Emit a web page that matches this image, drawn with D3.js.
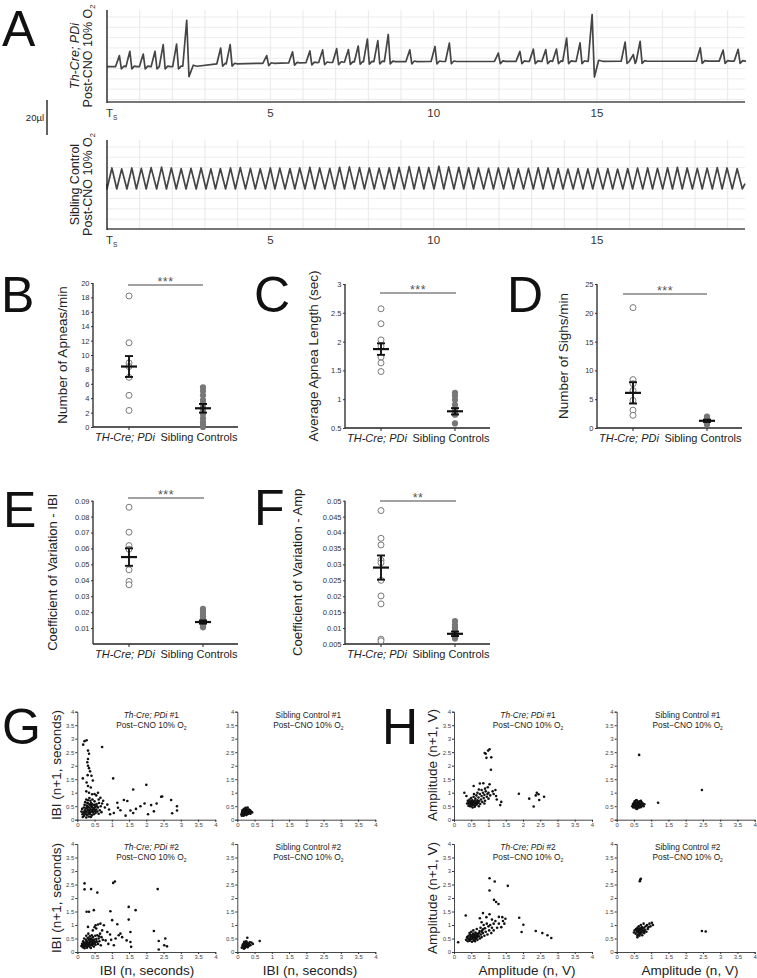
<!DOCTYPE html>
<html>
<head>
<meta charset="utf-8">
<script src="https://cdn.jsdelivr.net/npm/d3@7"></script>
<style>
  body { margin: 0; background: #fff; }
  svg text { font-family: 'Liberation Sans', Arial, Helvetica, sans-serif; }
</style>
</head>
<body>
<script>
// ---------------- data ----------------
// Panel A, Th-Cre;PDi trace: breath peaks (s) and their height above baseline (ul)
var pdiPeakTimes = [0.38,0.70,1.11,1.47,1.72,2.13,3.48,3.77,4.89,5.68,6.21,6.60,7.03,7.39,7.69,7.97,8.29,8.61,
                    9.27,10.04,10.48,11.98,12.64,13.05,13.43,13.76,14.07,14.48,15.86,16.11,16.32,18.16,18.86,19.32];
var pdiPeakAmps  = [6.3,8.8,7.2,8.8,12.6,12.9,9.1,11,4.4,6.3,6.7,7.2,7.8,7.2,9.1,13,12,15.5,
                    6.7,8.6,10.5,4.8,5.7,7,6.7,7,13.3,10.5,10.9,3.8,11.4,7.6,6.3,6.7];
var pdiSighTimes = [2.44, 14.85];
var pdiSighAmps  = [26.3, 26.7];
var pdiSighDips  = [-6, -9];
var pdiBaseTimes = [0, 2.35, 2.9, 8.5, 19.6];
var pdiBaseVals  = [0, 0, 1.4, 2.9, 3.2];

// Panel A, sibling control trace: breath peaks (s) and peak height (ul)
var sibPeakTimes = [0.15,0.45,0.76,1.05,1.35,1.67,1.97,2.27,2.57,2.88,3.18,3.47,3.78,4.08,4.39,4.69,5.00,5.29,
                    5.60,5.90,6.21,6.51,6.82,7.12,7.42,7.73,8.03,8.33,8.64,8.94,9.25,9.55,9.85,10.16,10.46,10.77,
                    11.07,11.37,11.68,11.98,12.29,12.59,12.90,13.20,13.50,13.81,14.11,14.42,14.72,15.02,15.33,15.63,
                    15.94,16.24,16.55,16.85,17.16,17.46,17.76,18.07,18.37,18.68,18.98,19.29];
var sibPeakAmps  = [12,11.5,12,11.8,12.2,12.5,12,11.6,11.8,12,11.5,11.7,12,12.2,11.8,11.6,12,11.9,
                    11.7,12,12.3,12,11.8,12.4,12.6,12.2,12,11.9,12.1,12.3,12.8,12.5,12.2,13,12.6,12.4,
                    12.1,12,11.8,12,11.9,11.6,11.8,12.1,12,11.7,11.4,11.6,11.5,11.8,11.6,11.4,
                    11.7,11.9,12,11.8,12.1,12.3,12,11.8,11.9,12.2,12,11.6];
var traceTicks = [5, 10, 15];

// Panels B-F: per-animal values, with mean and SEM
var groupNames = ["TH-Cre; PDi", "Sibling Controls"];
var apneaPDi  = [18.2, 11.7, 8.9, 8.4, 6.9, 4.4, 2.3];
var apneaSib  = [5.5, 5.0, 4.4, 3.75, 3.3, 2.8, 2.4, 1.8, 1.2, 0.7, 0.3, 0.0];
var apneaStat = [[8.4, 1.45], [2.6, 0.6]];
var lengthPDi  = [2.57, 2.31, 2.03, 1.92, 1.73, 1.63, 1.48];
var lengthSib  = [1.11, 1.06, 0.99, 0.90, 0.81, 0.76, 0.73, 0.58];
var lengthStat = [[1.87, 0.10], [0.79, 0.055]];
var sighPDi  = [20.9, 8.4, 7.7, 6.5, 4.8, 3.1, 2.2];
var sighSib  = [2.0, 1.8, 1.6, 1.4, 1.2, 1.0, 0.8, 0.6];
var sighStat = [[6.1, 1.85], [1.25, 0.2]];
var cvIbiPDi  = [0.0859, 0.0702, 0.0618, 0.0595, 0.0466, 0.0393, 0.0372];
var cvIbiSib  = [0.022, 0.0205, 0.019, 0.0175, 0.016, 0.015, 0.014, 0.013, 0.012, 0.011, 0.0105];
var cvIbiStat = [[0.0546, 0.0055], [0.0138, 0.001]];
var cvAmpPDi  = [0.0469, 0.0382, 0.0361, 0.0313, 0.0305, 0.025, 0.0201, 0.0176, 0.0065, 0.006];
var cvAmpSib  = [0.0122, 0.011, 0.0103, 0.0095, 0.009, 0.0085, 0.008, 0.0075, 0.007, 0.0067];
var cvAmpStat = [[0.029, 0.0038], [0.0082, 0.0007]];

// Panels G-H: Poincare plots, [n, n+1]
var scatterTicks = [0, 0.5, 1, 1.5, 2, 2.5, 3, 3.5, 4];
var ibiPDi1 = [[0.21,2.91],[0.27,2.94],[0.17,2.78],[0.72,2.69],[0.16,1.53],[1.04,1.53],
  [0.31,2.56],[0.34,2.44],[0.31,2.25],[0.29,2.13],[0.31,2.0],[0.34,1.91],[0.37,1.79],[0.41,1.63],[0.3,1.65],[0.27,1.38],
  [0.31,1.25],[0.39,1.19],[0.34,1.0],[0.43,0.94],[0.26,1.05],[0.45,1.45],
  [1.62,1.12],[2.0,1.29],[2.43,0.85],[2.46,0.86],[2.72,0.73],[2.89,0.5],[2.89,0.34],[2.75,0.24],[2.14,0.54],[2.22,0.31],
  [1.83,0.5],[1.62,0.25],[1.4,0.15],[1.54,0.34],[1.16,0.63],[1.18,0.44],[1.06,0.25],[1.35,0.73],[1.45,0.69],[0.87,0.56],
  [0.92,0.38],[0.67,0.81],[0.62,0.75],[0.55,0.9],[0.75,0.7],[0.8,0.45],[0.95,0.2],[1.25,0.35],[1.7,0.4],[1.95,0.6],
  [2.3,0.6],[2.05,0.2],[0.5,0.95],[0.6,1.0],
  [0.15,0.2],[0.18,0.28],[0.2,0.15],[0.22,0.35],[0.24,0.22],[0.25,0.42],[0.27,0.3],[0.28,0.18],[0.3,0.5],[0.3,0.38],
  [0.32,0.26],[0.33,0.12],[0.34,0.45],[0.35,0.33],[0.36,0.56],[0.37,0.21],[0.38,0.4],[0.4,0.3],[0.4,0.62],[0.41,0.48],
  [0.42,0.16],[0.43,0.36],[0.45,0.27],[0.46,0.55],[0.47,0.42],[0.48,0.2],[0.5,0.33],[0.5,0.68],[0.52,0.47],[0.53,0.25],
  [0.55,0.38],[0.56,0.58],[0.58,0.3],[0.6,0.45],[0.62,0.22],[0.63,0.62],[0.65,0.35],[0.68,0.5],[0.7,0.28],[0.72,0.6],
  [0.19,0.45],[0.21,0.55],[0.23,0.65],[0.26,0.75],[0.29,0.62],[0.31,0.72],[0.35,0.8],[0.38,0.7],[0.44,0.75],[0.12,0.3],
  [0.14,0.4],[0.16,0.1],[0.26,0.08],[0.39,0.1],[0.29,0.45],[0.33,0.35],[0.36,0.28],[0.39,0.52],[0.44,0.46],[0.47,0.3],
  [0.27,0.52],[0.24,0.3],[0.32,0.6],[0.42,0.58],[0.51,0.55],[0.57,0.5],[0.49,0.4],[0.53,0.33],[0.34,0.22],[0.21,0.24]];
var ibiSib1 = [[0.12,0.2],[0.14,0.28],[0.15,0.35],[0.16,0.22],[0.17,0.3],[0.18,0.38],[0.19,0.25],[0.2,0.32],[0.21,0.18],
  [0.22,0.28],[0.23,0.36],[0.24,0.23],[0.25,0.31],[0.26,0.4],[0.27,0.26],[0.28,0.34],[0.29,0.2],[0.3,0.29],[0.31,0.37],
  [0.32,0.25],[0.33,0.32],[0.35,0.28],[0.37,0.35],[0.38,0.22],[0.4,0.3],[0.43,0.27],[0.2,0.4],[0.24,0.44],[0.3,0.45],
  [0.13,0.15],[0.18,0.15],[0.26,0.17],[0.16,0.26],[0.22,0.24],[0.28,0.3],[0.34,0.38],[0.36,0.24],[0.19,0.34],[0.25,0.27],[0.31,0.22]];
var ibiPDi2 = [[0.21,2.54],[0.21,2.32],[0.4,2.33],[0.58,2.2],[1.04,2.56],[1.09,2.61],[2.33,2.33],[0.27,1.49],[0.34,1.49],
  [0.48,1.55],[1.49,1.67],[1.69,1.55],[1.49,1.2],[0.96,1.51],[1.01,1.18],[1.54,0.74],[1.54,0.37],[1.56,0.19],[1.43,0.43],
  [2.22,0.78],[2.36,0.41],[2.36,0.09],[2.55,0.5],[2.6,0.21],[2.52,0.25],[1.2,0.62],[1.11,0.5],[1.16,1.03],[1.06,0.25],
  [0.77,0.99],[0.67,1.05],[0.53,0.99],[0.5,0.92],[0.31,0.93],[0.87,0.74],[0.82,0.43],[0.63,0.58],[0.95,0.65],[1.25,0.68],
  [1.3,0.55],[0.72,0.8],[0.9,0.3],[0.98,0.45],[0.6,1.02],[0.55,0.87],[0.45,0.8],
  [0.12,0.22],[0.14,0.3],[0.16,0.18],[0.17,0.4],[0.19,0.26],[0.2,0.5],[0.21,0.14],[0.22,0.34],[0.24,0.22],[0.25,0.45],
  [0.26,0.6],[0.27,0.3],[0.28,0.16],[0.29,0.38],[0.3,0.52],[0.31,0.24],[0.32,0.68],[0.33,0.33],[0.34,0.45],[0.35,0.2],
  [0.36,0.58],[0.37,0.28],[0.38,0.4],[0.39,0.15],[0.4,0.5],[0.41,0.33],[0.42,0.62],[0.43,0.24],[0.44,0.42],[0.45,0.55],
  [0.46,0.3],[0.48,0.2],[0.49,0.46],[0.5,0.36],[0.52,0.6],[0.53,0.27],[0.55,0.48],[0.57,0.38],[0.58,0.62],[0.6,0.3],
  [0.62,0.5],[0.64,0.4],[0.66,0.68],[0.68,0.25],[0.7,0.55],[0.74,0.45],[0.18,0.33],[0.23,0.28],[0.27,0.42],[0.3,0.3],
  [0.34,0.26],[0.36,0.36],[0.4,0.26],[0.44,0.35],[0.47,0.4],[0.25,0.35],[0.21,0.2],[0.33,0.5],[0.38,0.48],[0.42,0.45],
  [0.15,0.25],[0.29,0.22],[0.51,0.3],[0.55,0.4]];
var ibiSib2 = [[0.13,0.16],[0.15,0.22],[0.16,0.28],[0.17,0.18],[0.18,0.25],[0.19,0.32],[0.2,0.2],[0.21,0.27],[0.22,0.15],
  [0.22,0.34],[0.23,0.23],[0.24,0.3],[0.25,0.19],[0.26,0.26],[0.27,0.35],[0.28,0.22],[0.29,0.29],[0.3,0.18],[0.31,0.25],
  [0.32,0.32],[0.33,0.22],[0.35,0.28],[0.36,0.36],[0.38,0.25],[0.29,0.53],[0.65,0.41],[0.45,0.3],[0.41,0.35],[0.19,0.12],
  [0.26,0.4],[0.2,0.38],[0.24,0.26],[0.27,0.2],[0.17,0.23],[0.3,0.24],[0.34,0.3]];
var ampPDi1 = [[0.92,2.44],[0.99,2.56],[0.89,2.47],[1.03,2.61],[1.08,2.31],[0.94,2.29],[1.07,1.85],[1.88,0.96],[2.18,0.78],
  [2.31,0.49],[2.37,0.9],[2.47,0.73],[2.45,0.94],[2.61,0.85],[2.4,1.0],[1.34,0.54],[1.37,0.66],[1.22,0.88],[1.24,0.75],
  [1.03,1.31],[0.98,1.2],[0.57,1.25],[0.72,1.12],[0.75,1.34],[0.36,0.88],[0.85,1.35],[1.12,1.05],[1.15,0.95],[1.2,1.1],
  [0.9,1.15],[1.0,1.0],[0.3,1.0],
  [0.38,0.6],[0.4,0.7],[0.42,0.52],[0.44,0.65],[0.45,0.75],[0.47,0.58],[0.48,0.68],[0.5,0.5],[0.5,0.8],[0.52,0.62],
  [0.53,0.72],[0.55,0.55],[0.56,0.66],[0.57,0.85],[0.58,0.6],[0.6,0.7],[0.61,0.52],[0.62,0.78],[0.64,0.64],[0.65,0.9],
  [0.66,0.56],[0.68,0.72],[0.7,0.62],[0.71,0.82],[0.73,0.68],[0.75,0.95],[0.76,0.58],[0.78,0.75],[0.8,0.88],[0.82,0.66],
  [0.84,1.0],[0.86,0.8],[0.88,0.92],[0.9,0.7],[0.92,1.05],[0.95,0.85],[0.97,0.95],[1.0,0.78],[1.05,0.9],[0.46,0.5],
  [0.54,0.45],[0.6,0.48],[0.72,0.5],[0.68,1.0],[0.58,0.95],[0.8,1.1],[0.88,0.6],[0.42,0.62],[0.52,0.56],[0.63,0.6],
  [0.55,0.65],[0.6,0.62],[0.66,0.66],[0.5,0.66],[0.45,0.6]];
var ampSib1 = [[0.65,2.4],[1.2,0.63],[2.47,1.1],
  [0.45,0.5],[0.47,0.58],[0.48,0.45],[0.5,0.62],[0.5,0.52],[0.52,0.68],[0.53,0.48],[0.54,0.57],[0.55,0.42],[0.56,0.63],
  [0.57,0.52],[0.58,0.72],[0.59,0.46],[0.6,0.58],[0.61,0.66],[0.62,0.5],[0.63,0.6],[0.64,0.44],[0.65,0.55],[0.66,0.68],
  [0.67,0.5],[0.68,0.6],[0.7,0.46],[0.71,0.56],[0.72,0.65],[0.74,0.52],[0.76,0.6],[0.78,0.5],[0.52,0.55],[0.58,0.6],
  [0.62,0.56],[0.55,0.5],[0.6,0.52],[0.64,0.62],[0.69,0.55],[0.48,0.52],[0.7,0.7],[0.56,0.72],[0.8,0.57],[0.59,0.4]];
var ampPDi2 = [[1.03,2.73],[1.18,2.61],[1.03,2.28],[1.56,2.45],[1.16,1.93],[1.22,1.85],[1.29,1.78],[1.89,1.27],[2.01,1.01],
  [1.96,0.74],[2.37,0.78],[2.56,0.7],[2.71,0.62],[2.82,0.52],[0.34,1.35],[0.84,1.44],[0.94,1.29],[1.03,1.4],[1.4,1.29],
  [1.49,1.23],[1.46,1.05],[1.37,0.92],[1.42,1.15],[0.12,0.36],[1.3,1.05],[1.2,1.15],[1.1,1.2],[1.25,0.9],[1.15,0.8],
  [1.3,1.3],[0.75,1.25],[0.8,1.1],
  [0.35,0.45],[0.38,0.55],[0.4,0.4],[0.42,0.6],[0.44,0.5],[0.45,0.7],[0.46,0.42],[0.48,0.58],[0.5,0.48],[0.5,0.75],
  [0.52,0.38],[0.53,0.62],[0.55,0.52],[0.56,0.8],[0.57,0.45],[0.58,0.65],[0.6,0.55],[0.61,0.4],[0.62,0.72],[0.64,0.5],
  [0.65,0.6],[0.66,0.85],[0.68,0.45],[0.7,0.68],[0.72,0.58],[0.74,0.78],[0.75,0.5],[0.77,0.9],[0.78,0.65],[0.8,0.55],
  [0.82,0.8],[0.84,0.7],[0.86,1.0],[0.88,0.6],[0.9,0.88],[0.92,0.75],[0.95,1.05],[0.97,0.65],[1.0,0.95],[1.02,0.8],
  [1.05,1.0],[1.08,0.7],[1.1,0.9],[1.15,1.05],[0.47,0.65],[0.54,0.58],[0.6,0.62],[0.63,0.48],[0.67,0.55],[0.52,0.5],
  [0.58,0.5],[0.43,0.48],[0.48,0.52],[0.56,0.6],[0.62,0.6],[0.69,0.62],[0.73,0.7],[0.8,0.75],[0.85,0.85],[0.58,0.42],
  [0.5,0.6],[0.55,0.68],[0.64,0.68],[0.4,0.5]];
var ampSib2 = [[0.67,2.62],[0.7,2.71],[0.68,2.67],[2.47,0.78],[2.58,0.76],
  [0.5,0.72],[0.52,0.8],[0.55,0.68],[0.56,0.85],[0.58,0.75],[0.6,0.62],[0.6,0.9],[0.62,0.78],[0.63,0.7],[0.64,0.95],
  [0.65,0.82],[0.66,0.6],[0.67,0.75],[0.68,0.88],[0.69,0.68],[0.7,1.0],[0.71,0.8],[0.72,0.72],[0.73,0.92],[0.74,0.62],
  [0.75,0.85],[0.76,0.76],[0.78,1.05],[0.79,0.9],[0.8,0.7],[0.82,0.82],[0.84,0.95],[0.86,0.75],[0.88,1.0],[0.9,0.85],
  [0.92,0.92],[0.95,1.05],[0.98,0.95],[1.02,1.08],[1.05,1.0],[0.62,0.85],[0.66,0.7],[0.7,0.76],[0.74,0.8],[0.77,0.72],
  [0.68,0.8],[0.72,0.85],[0.65,0.65],[0.58,0.82],[0.8,0.78],[0.6,0.55]];

// ---------------- drawing ----------------
var svg = d3.select("body").append("svg").attr("width", 757).attr("height", 978);

function letter(t, x, y) {
  svg.append("text").attr("x", x).attr("y", y).attr("font-size", 50).attr("fill", "#111").text(t);
}

// rotated multi-part label; parts: [text, italic, sub]
function rotText(x, y, parts, size, fill) {
  var t = svg.append("text").attr("transform", "translate(" + x + "," + y + ") rotate(-90)")
    .attr("text-anchor", "middle").attr("font-size", size).attr("fill", fill || "#222");
  addParts(t, parts, size);
  return t;
}
function addParts(t, parts, size) {
  parts.forEach(function(p) {
    var s = t.append("tspan").text(p[0]);
    if (p[1]) s.attr("font-style", "italic");
    if (p[2]) s.attr("font-size", size * 0.6).attr("dy", size * 0.25);
  });
}

// ---- Panel A traces
var tx = d3.scaleLinear().domain([0, 19.53]).range([107, 745]);
var gridSeconds = d3.range(1, 20);

function pdiPoints() {
  var base = d3.scaleLinear().domain(pdiBaseTimes).range(pdiBaseVals);
  var ev = pdiPeakTimes.map(function(t, i) { return {t: t, a: pdiPeakAmps[i]}; })
    .concat(pdiSighTimes.map(function(t, i) { return {t: t, a: pdiSighAmps[i], dip: pdiSighDips[i]}; }));
  ev.sort(function(a, b) { return a.t - b.t; });
  var pts = [[0, base(0)]];
  ev.forEach(function(e) {
    var b = base(e.t), shape;
    if (e.dip !== undefined) {
      shape = [[e.t - 0.12, b], [e.t, b + e.a], [e.t + 0.07, b + e.dip], [e.t + 0.2, b + 0.6], [e.t + 0.32, b]];
    } else {
      shape = [[e.t - 0.12, b], [e.t, b + e.a], [e.t + 0.06, b - 1.3], [e.t + 0.14, b + 0.3], [e.t + 0.22, b]];
    }
    pts = pts.filter(function(p) { return p[0] < shape[0][0]; });
    pts = pts.concat(shape);
  });
  pts.push([19.53, base(19.53)]);
  return pts;
}

function sibPoints() {
  var pts = [[0, 3]];
  sibPeakTimes.forEach(function(t, i) {
    pts.push([t - 0.15, 0], [t, sibPeakAmps[i]]);
  });
  pts.push([19.45, 0], [19.53, 3]);
  return pts;
}

function tracePanel(top, bottom, ydom, pts, labelParts) {
  var y = d3.scaleLinear().domain(ydom).range([bottom, top]);
  var g = svg.append("g");
  g.selectAll(".vg").data(gridSeconds).enter().append("line")
    .attr("x1", function(d) { return tx(d); }).attr("x2", function(d) { return tx(d); })
    .attr("y1", top).attr("y2", bottom).attr("stroke", "#e3e3e3").attr("stroke-width", 0.8);
  var hg = d3.range(top + 7, bottom - 2, 10.3);
  g.selectAll(".hg").data(hg).enter().append("line")
    .attr("x1", 107).attr("x2", 745).attr("y1", function(d) { return d; }).attr("y2", function(d) { return d; })
    .attr("stroke", "#e8e8e8").attr("stroke-width", 0.8);
  g.append("path").datum(pts)
    .attr("d", d3.line().x(function(d) { return tx(d[0]); }).y(function(d) { return y(d[1]); }))
    .attr("fill", "none").attr("stroke", "#454545").attr("stroke-width", 1.7).attr("stroke-linejoin", "round");
  g.append("line").attr("x1", 107).attr("x2", 745).attr("y1", bottom).attr("y2", bottom)
    .attr("stroke", "#777").attr("stroke-width", 2);
  g.append("line").attr("x1", 107).attr("x2", 107).attr("y1", top).attr("y2", bottom + 1)
    .attr("stroke", "#222").attr("stroke-width", 1.4);
  g.selectAll(".tl").data(traceTicks).enter().append("text")
    .attr("x", function(d) { return tx(d); }).attr("y", bottom + 15)
    .attr("text-anchor", "middle").attr("font-size", 11.5).attr("fill", "#333").text(function(d) { return d; });
  var ts = g.append("text").attr("x", 106).attr("y", bottom + 15).attr("font-size", 11.5).attr("fill", "#333");
  ts.append("tspan").text("T");
  ts.append("tspan").attr("font-size", 6.5).attr("dy", 3).text("S");
  var cy = (top + bottom) / 2;
  rotText(79, cy, labelParts[0], 12.5);
  rotText(92, cy, [["Post-CNO 10% O"], ["2", false, true]], 12.5);
}

tracePanel(10, 102, [-20.2, 32.4], pdiPoints(), [[["Th-Cre; PDi", true]]]);
tracePanel(140, 229, [-22.9, 28], sibPoints(), [[["Sibling Control"]]]);

// scale bar
svg.append("line").attr("x1", 47).attr("x2", 47).attr("y1", 100).attr("y2", 135).attr("stroke", "#222").attr("stroke-width", 1.4);
svg.append("text").attr("x", 44).attr("y", 121).attr("text-anchor", "end").attr("font-size", 9.5).attr("fill", "#222").text("20µl");

// ---- Panels B-F dot plots
function dotPlot(o) {
  var g = svg.append("g");
  var y = d3.scaleLinear().domain(o.domain).range([o.bottom, o.top]);
  var x = d3.scalePoint().domain(groupNames).range([o.left + 36, o.left + 110]);
  var ax = g.append("g").attr("transform", "translate(" + o.left + ",0)")
    .call(d3.axisLeft(y).tickValues(o.ticks).tickSize(2).tickPadding(1.5).tickFormat(o.fmt));
  ax.select(".domain").attr("stroke", "#222").attr("stroke-width", 1.3).attr("d", "M0," + o.top + "V" + o.bottom);
  ax.selectAll(".tick line").attr("stroke", "#333");
  ax.selectAll(".tick text").attr("font-size", 7.5).attr("fill", "#333")
    .style("font-family", "'Liberation Sans', Arial, sans-serif");
  g.append("line").attr("x1", o.left).attr("x2", o.left + 145).attr("y1", o.bottom).attr("y2", o.bottom)
    .attr("stroke", "#222").attr("stroke-width", 1.3);
  groupNames.forEach(function(nm) {
    g.append("line").attr("x1", x(nm)).attr("x2", x(nm)).attr("y1", o.bottom).attr("y2", o.bottom + 3)
      .attr("stroke", "#222").attr("stroke-width", 1);
  });
  g.append("text").attr("x", x(groupNames[0]) - 4).attr("y", o.bottom + 14).attr("text-anchor", "middle")
    .attr("font-size", 11).attr("font-style", "italic").attr("fill", "#222").text(groupNames[0]);
  g.append("text").attr("x", x(groupNames[1]) - 4).attr("y", o.bottom + 14).attr("text-anchor", "middle")
    .attr("font-size", 11).attr("fill", "#222").text(groupNames[1]);
  // points
  g.selectAll(".p0").data(o.a).enter().append("circle")
    .attr("cx", x(groupNames[0])).attr("cy", function(d) { return y(d); }).attr("r", 3)
    .attr("fill", "#fff").attr("stroke", "#7a7a7a").attr("stroke-width", 1);
  g.selectAll(".p1").data(o.b).enter().append("circle")
    .attr("cx", x(groupNames[1])).attr("cy", function(d) { return y(d); }).attr("r", 3.1)
    .attr("fill", "#777");
  // mean and SEM
  o.stat.forEach(function(s, i) {
    var cx = x(groupNames[i]);
    g.append("line").attr("x1", cx - 8).attr("x2", cx + 8).attr("y1", y(s[0])).attr("y2", y(s[0]))
      .attr("stroke", "#111").attr("stroke-width", 2.2);
    g.append("line").attr("x1", cx).attr("x2", cx).attr("y1", y(s[0] - s[1])).attr("y2", y(s[0] + s[1]))
      .attr("stroke", "#111").attr("stroke-width", 1.9);
    [s[0] - s[1], s[0] + s[1]].forEach(function(v) {
      g.append("line").attr("x1", cx - 4).attr("x2", cx + 4).attr("y1", y(v)).attr("y2", y(v))
        .attr("stroke", "#111").attr("stroke-width", 1.9);
    });
  });
  // significance
  g.append("line").attr("x1", o.left + o.sig[0]).attr("x2", o.left + o.sig[1]).attr("y1", o.sig[2]).attr("y2", o.sig[2])
    .attr("stroke", "#444").attr("stroke-width", 1);
  g.append("text").attr("x", o.left + (o.sig[0] + o.sig[1]) / 2).attr("y", o.sig[2] + 1).attr("text-anchor", "middle")
    .attr("font-size", 12.5).attr("letter-spacing", 0.5).attr("fill", "#555").text(o.stars);
  rotText(o.left + o.labDx, (o.top + o.bottom) / 2, [[o.label]], o.labSize || 13.5);
}

var fmtPlain = function(d) { return String(+d.toFixed(3)); };
dotPlot({left: 93, top: 283, bottom: 427, domain: [0, 20], ticks: d3.range(0, 21, 2), fmt: fmtPlain,
  a: apneaPDi, b: apneaSib, stat: apneaStat, sig: [35, 110, 285], stars: "***", label: "Number of Apneas/min", labDx: -26});
dotPlot({left: 345, top: 284, bottom: 428, domain: [0.5, 3], ticks: [0.5, 1, 1.5, 2, 2.5, 3], fmt: fmtPlain,
  a: lengthPDi, b: lengthSib, stat: lengthStat, sig: [35, 111, 293], stars: "***", label: "Average Apnea Length (sec)", labDx: -27});
dotPlot({left: 597, top: 284, bottom: 428, domain: [0, 25], ticks: [0, 5, 10, 15, 20, 25], fmt: fmtPlain,
  a: sighPDi, b: sighSib, stat: sighStat, sig: [26, 110, 294], stars: "***", label: "Number of Sighs/min", labDx: -29});
dotPlot({left: 93, top: 500.7, bottom: 644, domain: [0, 0.09], ticks: d3.range(1, 10).map(function(i) { return i / 100; }),
  fmt: d3.format(".2f"), a: cvIbiPDi, b: cvIbiSib, stat: cvIbiStat, sig: [35, 111, 498], stars: "***",
  label: "Coefficient of Variation - IBI", labDx: -36, labSize: 13});
dotPlot({left: 345, top: 500.7, bottom: 644, domain: [0.005, 0.05], ticks: d3.range(1, 11).map(function(i) { return i * 0.005; }),
  fmt: fmtPlain, a: cvAmpPDi, b: cvAmpSib, stat: cvAmpStat, sig: [35, 111, 501], stars: "**",
  label: "Coefficient of Variation - Amp", labDx: -43, labSize: 13});

// ---- Panels G-H Poincare plots
function scatter(o) {
  var g = svg.append("g");
  var x = d3.scaleLinear().domain([0, 4]).range([o.left, o.left + 138]);
  var y = d3.scaleLinear().domain([0, 4]).range([o.top + 108, o.top]);
  var ay = g.append("g").attr("transform", "translate(" + o.left + ",0)")
    .call(d3.axisLeft(y).tickValues(scatterTicks).tickSize(2).tickPadding(1).tickFormat(function(d) { return d; }));
  var ax = g.append("g").attr("transform", "translate(0," + (o.top + 108) + ")")
    .call(d3.axisBottom(x).tickValues(scatterTicks).tickSize(2).tickPadding(1).tickFormat(function(d) { return d; }));
  [ax, ay].forEach(function(a) {
    a.select(".domain").attr("stroke", "#333").attr("stroke-width", 0.9);
    a.selectAll(".tick line").attr("stroke", "#333");
    a.selectAll(".tick text").attr("font-size", 6).attr("fill", "#444")
      .style("font-family", "'Liberation Sans', Arial, sans-serif");
  });
  g.selectAll("circle").data(o.pts).enter().append("circle")
    .attr("cx", function(d) { return x(d[0]); }).attr("cy", function(d) { return y(d[1]); })
    .attr("r", 1.3).attr("fill", "#111");
  var t1 = g.append("text").attr("x", o.left + o.tdx).attr("y", o.top + 6).attr("text-anchor", "middle")
    .attr("font-size", 8.3).attr("fill", "#222");
  addParts(t1, o.title, 8.3);
  var t2 = g.append("text").attr("x", o.left + o.tdx).attr("y", o.top + 16).attr("text-anchor", "middle")
    .attr("font-size", 8.3).attr("fill", "#222");
  addParts(t2, [["Post\u2212CNO 10% O"], ["2", false, true]], 8.3);
}

var scatterSpecs = [
  {left: 77.3, top: 711.7, pts: ibiPDi1, title: [["Th-Cre; PDi", true], [" #1"]], tdx: 74},
  {left: 237.3, top: 711.7, pts: ibiSib1, title: [["Sibling Control #1"]], tdx: 71},
  {left: 77.3, top: 844, pts: ibiPDi2, title: [["Th-Cre; PDi", true], [" #2"]], tdx: 74},
  {left: 237.3, top: 844, pts: ibiSib2, title: [["Sibling Control #2"]], tdx: 71},
  {left: 454, top: 711.7, pts: ampPDi1, title: [["Th-Cre; PDi", true], [" #1"]], tdx: 74},
  {left: 616.7, top: 711.7, pts: ampSib1, title: [["Sibling Control #1"]], tdx: 71},
  {left: 454, top: 844, pts: ampPDi2, title: [["Th-Cre; PDi", true], [" #2"]], tdx: 74},
  {left: 616.7, top: 844, pts: ampSib2, title: [["Sibling Control #2"]], tdx: 71}
];
scatterSpecs.forEach(scatter);

rotText(61, 765, [["IBI (n+1, seconds)"]], 13.5);
rotText(61, 898, [["IBI (n+1, seconds)"]], 13.5);
rotText(437, 765, [["Amplitude (n+1, V)"]], 13.5);
rotText(437, 898, [["Amplitude (n+1, V)"]], 13.5);
[[147, "IBI (n, seconds)"], [310, "IBI (n, seconds)"], [527, "Amplitude (n, V)"], [690, "Amplitude (n, V)"]].forEach(function(d) {
  svg.append("text").attr("x", d[0]).attr("y", 975).attr("text-anchor", "middle").attr("font-size", 13.5)
    .attr("fill", "#222").text(d[1]);
});

// panel letters
letter("A", 2, 46);
letter("B", 1, 312);
letter("C", 254, 312);
letter("D", 507, 312);
letter("E", 3, 527);
letter("F", 254, 525);
letter("G", 2, 744);
letter("H", 382, 744);
</script>
</body>
</html>
